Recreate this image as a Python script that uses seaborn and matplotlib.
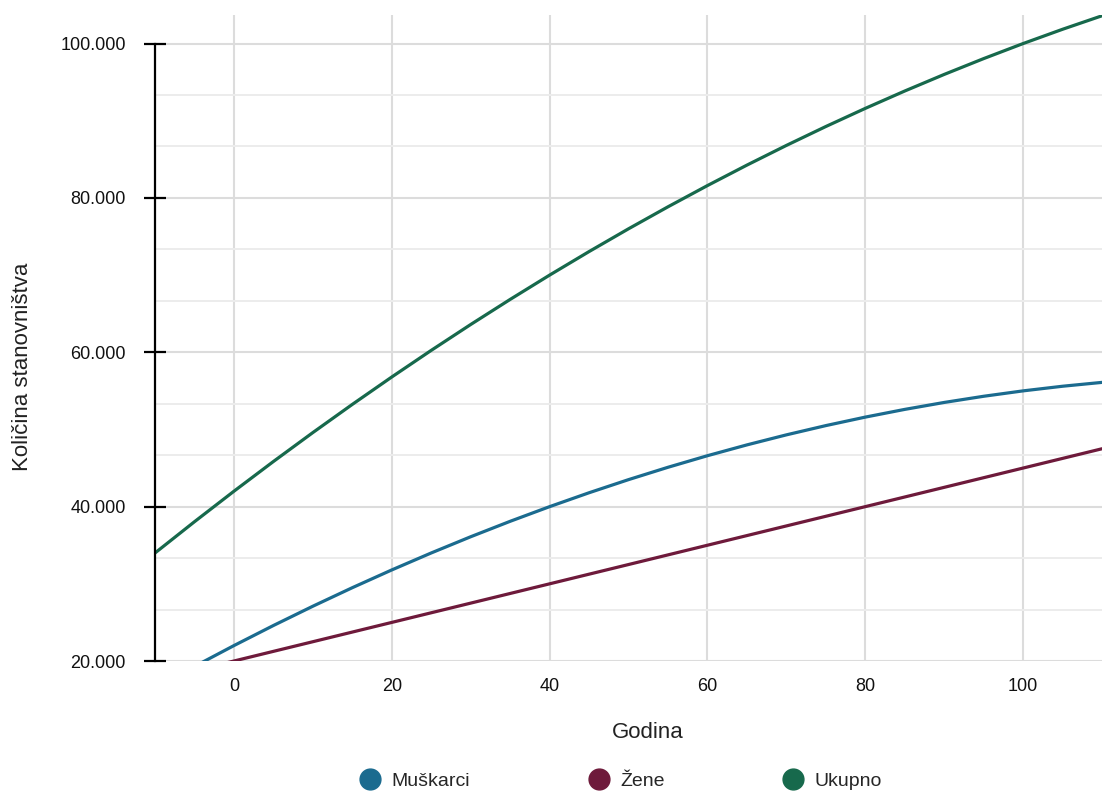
import pandas as pd
import matplotlib
matplotlib.use("Agg")
import matplotlib.pyplot as plt
from matplotlib.lines import Line2D
from matplotlib.ticker import MultipleLocator, AutoMinorLocator, FuncFormatter
import seaborn as sns

# ---------- DATA ----------
godina = [-10, -5, 0, 5, 10, 15, 20, 25, 30, 35, 40, 45, 50,
          55, 60, 65, 70, 75, 80, 85, 90, 95, 100, 105, 110]

muskarci = [16500, 19300, 22000, 24600, 27100, 29500, 31800, 34000, 36100,
            38100, 40000, 41800, 43500, 45100, 46600, 48000, 49300, 50500,
            51600, 52600, 53500, 54300, 55000, 55600, 56100]

zene = [17500, 18750, 20000, 21250, 22500, 23750, 25000, 26250, 27500,
        28750, 30000, 31250, 32500, 33750, 35000, 36250, 37500, 38750,
        40000, 41250, 42500, 43750, 45000, 46250, 47500]

ukupno = [34000, 38050, 42000, 45850, 49600, 53250, 56800, 60250, 63600,
          66850, 70000, 73050, 76000, 78850, 81600, 84250, 86800, 89250,
          91600, 93850, 96000, 98050, 100000, 101850, 103600]

series_names = ["Muškarci", "Žene", "Ukupno"]
colors = ["#1b6b8f", "#6e1a3b", "#17694c"]

# ---------- STYLE ----------
sns.set_theme(style="white")
plt.rcParams["font.family"] = ["Liberation Sans", "DejaVu Sans"]


def build_frame() -> pd.DataFrame:
    """Long table for seaborn."""
    parts = []
    for name, vals in zip(series_names, [muskarci, zene, ukupno]):
        parts.append(pd.DataFrame({"Godina": godina, "Vrijednost": vals, "Serija": name}))
    return pd.concat(parts, ignore_index=True)


def thousands(v, pos):
    return f"{int(round(v)):,}".replace(",", ".")


def main():
    df = build_frame()

    fig = plt.figure(figsize=(11.02, 7.94), dpi=100)
    ax = fig.add_axes([0.1407, 0.1675, 0.8593, 0.8136])

    sns.lineplot(data=df, x="Godina", y="Vrijednost", hue="Serija",
                 hue_order=series_names, palette=colors, linewidth=2.3,
                 legend=False, ax=ax)

    ax.set_xlim(-10, 110)
    ax.set_ylim(20000, 103700)

    # grid
    ax.xaxis.set_major_locator(MultipleLocator(20))
    ax.yaxis.set_major_locator(MultipleLocator(20000))
    ax.yaxis.set_minor_locator(AutoMinorLocator(3))
    ax.grid(which="major", axis="both", color="#dcdcdc", linewidth=1.5)
    ax.grid(which="minor", axis="y", color="#ececec", linewidth=1.4)
    ax.set_axisbelow(True)

    # spines / ticks
    for side in ["top", "right", "bottom"]:
        ax.spines[side].set_visible(False)
    ax.spines["left"].set_color("black")
    ax.spines["left"].set_linewidth(1.6)
    ax.spines["left"].set_bounds(20000, 100000)
    ax.tick_params(axis="y", which="major", left=True, direction="inout",
                   length=16, width=1.6, color="black", pad=13,
                   labelsize=13, labelcolor="#111111")
    ax.tick_params(axis="y", which="minor", left=False, length=0)
    ax.tick_params(axis="x", bottom=False, length=0, pad=12, labelsize=13,
                   labelcolor="#111111")
    ax.yaxis.set_major_formatter(FuncFormatter(thousands))

    ax.set_xlabel("Godina", fontsize=16, color="#222222")
    ax.xaxis.set_label_coords(0.52, -0.094)
    ax.set_ylabel("Količina stanovništva", fontsize=16, color="#222222")
    ax.yaxis.set_label_coords(-0.129, 0.455)

    handles = [Line2D([], [], linestyle="none", marker="o", markersize=15,
                      color=c) for c in colors]
    fig.legend(handles, series_names, loc="center", bbox_to_anchor=(0.5627, 0.0165),
               ncol=3, frameon=False, fontsize=14, handlelength=1.2,
               handletextpad=0.5, columnspacing=6.0)

    fig.savefig("out.png", dpi=100)
    plt.close(fig)


if __name__ == "__main__":
    main()
